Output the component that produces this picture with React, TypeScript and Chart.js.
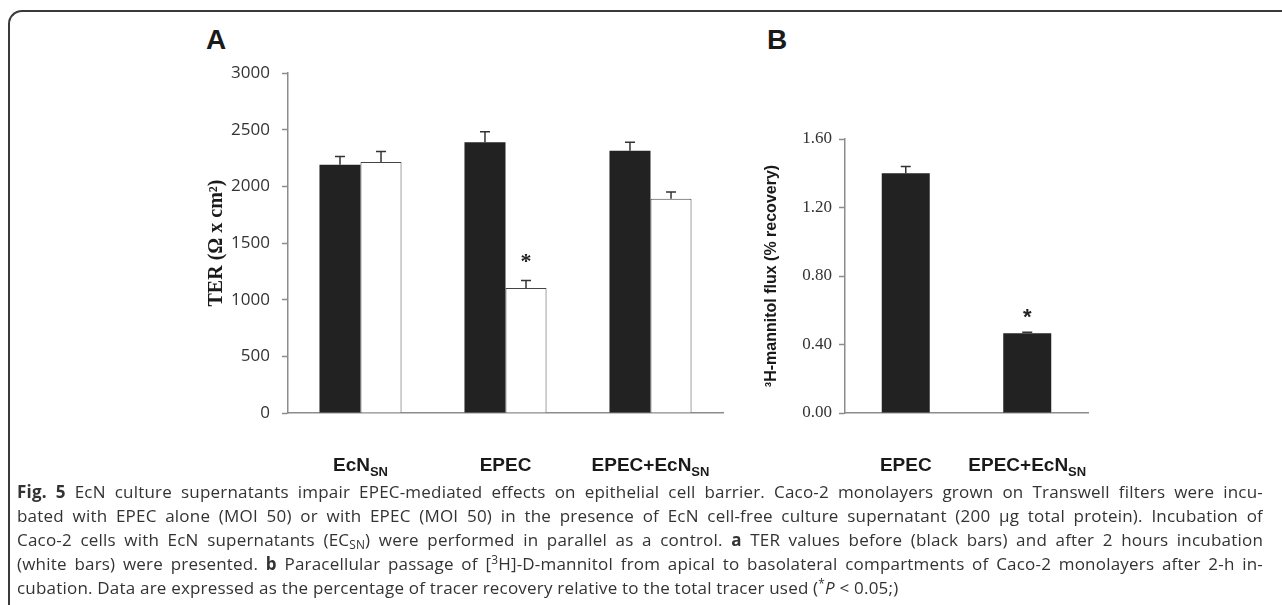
import React, { useEffect, useRef } from "react";
import { Chart, registerables } from "chart.js";
Chart.register(...registerables);

// ---------- Data: panel A (TER) ----------
const groupMainA = ["EcN", "EPEC", "EPEC+EcN"];
const groupSubA = ["SN", "", "SN"];
const beforeA = [2190, 2390, 2315];
const beforeErrA = [74, 92, 73];
const afterA = [2215, 1103, 1891];
const afterErrA = [93, 67, 59];
const afterSigA = [false, true, false];
const ticksA = [0, 500, 1000, 1500, 2000, 2500, 3000];

// ---------- Data: panel B (mannitol flux) ----------
const groupMainB = ["EPEC", "EPEC+EcN"];
const groupSubB = ["", "SN"];
const fluxB = [1.4, 0.465];
const fluxErrB = [0.04, 0.006];
const fluxSigB = [false, true];
const ticksB = [0, 0.4, 0.8, 1.2, 1.6];

const AXIS = "#8c8c8c";
const BAR = "#222222";

type Extra = {
  mains: string[];
  subs: string[];
  errs: number[][];
  sigs: boolean[][];
  capHalf: number;
  starFont: string;
  starGap: number;
  labelBaseline: number;
};

const annotPlugin = {
  id: "annot",
  afterDatasetsDraw(chart: any, _a: any, opts: any) {
    const ex: Extra = opts.extra;
    if (!ex) return;
    const ctx = chart.ctx;
    const y = chart.scales.y;
    ctx.save();
    chart.data.datasets.forEach((ds: any, di: number) => {
      const meta = chart.getDatasetMeta(di);
      meta.data.forEach((bar: any, i: number) => {
        const v = ds.data[i];
        const e = ex.errs[di][i];
        const yTop = y.getPixelForValue(v);
        const yErr = y.getPixelForValue(v + e);
        ctx.strokeStyle = "#333";
        ctx.lineWidth = 1.5;
        ctx.beginPath();
        ctx.moveTo(bar.x, yTop);
        ctx.lineTo(bar.x, yErr);
        ctx.moveTo(bar.x - ex.capHalf, yErr);
        ctx.lineTo(bar.x + ex.capHalf, yErr);
        ctx.stroke();
        if (ex.sigs[di][i]) {
          ctx.fillStyle = "#222";
          ctx.font = ex.starFont;
          ctx.textAlign = "center";
          ctx.textBaseline = "alphabetic";
          ctx.fillText("*", bar.x, yErr - ex.starGap);
        }
      });
    });
    ctx.restore();
  },
  afterDraw(chart: any, _a: any, opts: any) {
    const ex: Extra = opts.extra;
    if (!ex) return;
    const ctx = chart.ctx;
    const xs = chart.scales.x;
    ctx.save();
    ctx.fillStyle = "#1a1a1a";
    ctx.textBaseline = "alphabetic";
    ctx.textAlign = "left";
    ex.mains.forEach((m, i) => {
      const cx = xs.getPixelForValue(i);
      const mainFont = "bold 19px 'Liberation Sans', Arial, sans-serif";
      const subFont = "bold 13px 'Liberation Sans', Arial, sans-serif";
      ctx.font = mainFont;
      const wm = ctx.measureText(m).width;
      ctx.font = subFont;
      const ws = ex.subs[i] ? ctx.measureText(ex.subs[i]).width : 0;
      const start = cx - (wm + ws) / 2;
      const base = chart.scales.y.bottom + ex.labelBaseline;
      ctx.font = mainFont;
      ctx.fillText(m, start, base);
      if (ex.subs[i]) {
        ctx.font = subFont;
        ctx.fillText(ex.subs[i], start + wm, base + 5);
      }
    });
    ctx.restore();
  },
};

function makeYAxis(
  min: number,
  max: number,
  ticks: number[],
  width: number,
  tickFont: any,
  tickPad: number,
  fmt: (v: number) => string,
  title: string,
  titleFont: any,
  titlePadTop: number
) {
  return {
    min,
    max,
    afterBuildTicks: (s: any) => {
      s.ticks = ticks.map((v) => ({ value: v }));
    },
    afterFit: (s: any) => {
      s.width = width;
    },
    border: { color: AXIS, width: 1.5 },
    grid: { drawOnChartArea: false, drawTicks: true, tickLength: 6, color: AXIS, tickWidth: 1.5 },
    ticks: {
      font: tickFont,
      color: "#333",
      padding: tickPad,
      callback: (v: any) => fmt(Number(v)),
    },
    title: {
      display: true,
      text: title,
      font: titleFont,
      color: "#1a1a1a",
      padding: { top: titlePadTop, bottom: 0 },
    },
  };
}

function xAxis(height: number) {
  return {
    grid: { display: false, drawTicks: false },
    border: { color: AXIS, width: 1.5 },
    ticks: { display: false },
    afterFit: (s: any) => {
      s.height = height;
    },
  };
}

function PanelA() {
  const ref = useRef<HTMLCanvasElement>(null);
  useEffect(() => {
    const extra: Extra = {
      mains: groupMainA,
      subs: groupSubA,
      errs: [beforeErrA, afterErrA],
      sigs: [[false, false, false], afterSigA],
      capHalf: 5,
      starFont: "bold 22px 'Liberation Serif', serif",
      starGap: 12,
      labelBaseline: 58,
    };
    const chart = new Chart(ref.current as HTMLCanvasElement, {
      type: "bar",
      data: {
        labels: groupMainA.map((m, i) => m + groupSubA[i]),
        datasets: [
          { data: beforeA, backgroundColor: BAR, borderWidth: 0, categoryPercentage: 0.566, barPercentage: 1 },
          {
            data: afterA,
            backgroundColor: "#ffffff",
            borderColor: "#444",
            borderWidth: 1,
            categoryPercentage: 0.566,
            barPercentage: 1,
          },
        ],
      },
      options: {
        animation: false,
        responsive: false,
        maintainAspectRatio: false,
        layout: { padding: { top: 23, right: 27, left: 0, bottom: 0 } },
        plugins: { legend: { display: false }, tooltip: { enabled: false }, annot: { extra } } as any,
        scales: {
          x: xAxis(77) as any,
          y: makeYAxis(
            0,
            3000,
            ticksA,
            98,
            { family: "'Open Sans', sans-serif", size: 17 },
            12,
            (v) => String(v),
            "TER (Ω x cm²)",
            { family: "'Liberation Serif', serif", size: 20, weight: "bold" },
            15
          ) as any,
        },
      },
      plugins: [annotPlugin],
    });
    return () => chart.destroy();
  }, []);
  return (
    <canvas
      ref={ref}
      width={560}
      height={440}
      style={{ position: "absolute", left: 190, top: 50, width: 560, height: 440 }}
    />
  );
}

function PanelB() {
  const ref = useRef<HTMLCanvasElement>(null);
  useEffect(() => {
    const extra: Extra = {
      mains: groupMainB,
      subs: groupSubB,
      errs: [fluxErrB],
      sigs: [fluxSigB],
      capHalf: 5,
      starFont: "bold 22px 'Liberation Sans', Arial, sans-serif",
      starGap: 8,
      labelBaseline: 58,
    };
    const chart = new Chart(ref.current as HTMLCanvasElement, {
      type: "bar",
      data: {
        labels: groupMainB.map((m, i) => m + groupSubB[i]),
        datasets: [{ data: fluxB, backgroundColor: BAR, borderWidth: 0, categoryPercentage: 1, barPercentage: 0.395 }],
      },
      options: {
        animation: false,
        responsive: false,
        maintainAspectRatio: false,
        layout: { padding: { top: 39, right: 32, left: 0, bottom: 0 } },
        plugins: { legend: { display: false }, tooltip: { enabled: false }, annot: { extra } } as any,
        scales: {
          x: xAxis(77) as any,
          y: makeYAxis(
            0,
            1.6,
            ticksB,
            105,
            { family: "'Liberation Serif', serif", size: 17 },
            7,
            (v) => v.toFixed(2),
            "³H-mannitol flux (% recovery)",
            { family: "'Liberation Sans', Arial, sans-serif", size: 16, weight: "bold" },
            22
          ) as any,
        },
      },
      plugins: [annotPlugin],
    });
    return () => chart.destroy();
  }, []);
  return (
    <canvas
      ref={ref}
      width={380}
      height={390}
      style={{ position: "absolute", left: 740, top: 100, width: 380, height: 390 }}
    />
  );
}

const supStyle: React.CSSProperties = { fontSize: "0.7em", lineHeight: 0, verticalAlign: "0.5em" };
const subStyle: React.CSSProperties = { fontSize: "0.7em", lineHeight: 0, verticalAlign: "-0.25em" };

export default function App() {
  const lineStyle: React.CSSProperties = {
    height: 24,
    overflow: "hidden",
    textAlign: "justify",
    textAlignLast: "justify",
  };
  const lastStyle: React.CSSProperties = { height: 24, overflow: "hidden", textAlign: "left" };
  return (
    <div
      style={{
        position: "fixed",
        left: 0,
        top: 0,
        width: 1282,
        height: 605,
        background: "#fff",
        overflow: "hidden",
      }}
    >
      <div
        style={{
          position: "absolute",
          left: 8,
          top: 10,
          width: 1300,
          height: 620,
          borderTop: "2px solid #3a3a3a",
          borderLeft: "2px solid #3a3a3a",
          borderTopLeftRadius: 14,
          boxSizing: "border-box",
        }}
      />
      <div
        style={{
          position: "absolute",
          left: 206,
          top: 24,
          font: "bold 28px 'Liberation Sans', Arial, sans-serif",
          color: "#1a1a1a",
        }}
      >
        A
      </div>
      <div
        style={{
          position: "absolute",
          left: 767,
          top: 24,
          font: "bold 28px 'Liberation Sans', Arial, sans-serif",
          color: "#1a1a1a",
        }}
      >
        B
      </div>
      <PanelA />
      <PanelB />
      <div
        style={{
          position: "absolute",
          left: 17,
          top: 480,
          width: 1246,
          font: "17px 'Open Sans', sans-serif",
          letterSpacing: "0.2px",
          color: "#333",
          lineHeight: "24px",
        }}
      >
        <div style={lineStyle}>
          <b>Fig. 5</b> EcN culture supernatants impair EPEC-mediated effects on epithelial cell barrier. Caco-2
          monolayers grown on Transwell filters were incu-
        </div>
        <div style={lineStyle}>
          bated with EPEC alone (MOI 50) or with EPEC (MOI 50) in the presence of EcN cell-free culture supernatant
          (200 µg total protein). Incubation of
        </div>
        <div style={lineStyle}>
          Caco-2 cells with EcN supernatants (EC<sub style={subStyle}>SN</sub>) were performed in parallel as a
          control. <b>a</b> TER values before (black bars) and after 2 hours incubation
        </div>
        <div style={lineStyle}>
          (white bars) were presented. <b>b</b> Paracellular passage of [<sup style={supStyle}>3</sup>H]-D-mannitol
          from apical to basolateral compartments of Caco-2 monolayers after 2-h in-
        </div>
        <div style={lastStyle}>
          cubation. Data are expressed as the percentage of tracer recovery relative to the total tracer used (
          <sup style={supStyle}>*</sup>
          <i>P</i> &lt; 0.05;)
        </div>
      </div>
    </div>
  );
}
